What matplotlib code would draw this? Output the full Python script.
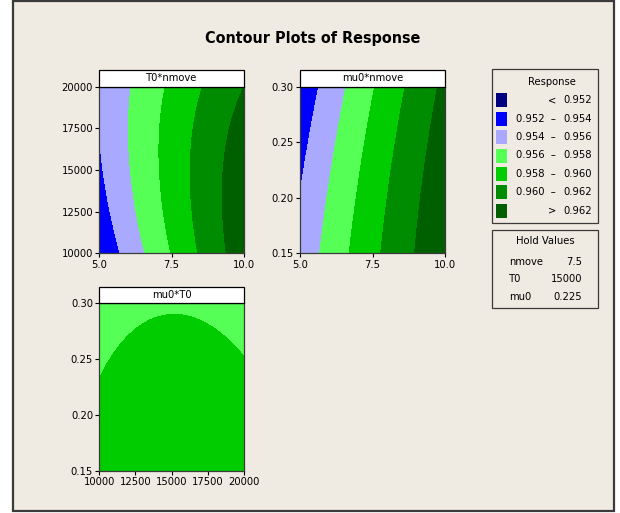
import numpy as np
import matplotlib

matplotlib.use("Agg")
import matplotlib.pyplot as plt
from matplotlib.patches import Rectangle

plt.rcParams["font.family"] = ["DejaVu Sans"]
plt.rcParams["font.stretch"] = "condensed"

W, H = 620, 513
BG = "#EFEBE2"
EDGE = "#3A3A3A"

# fitted response surface, coded units (nmove, T0, mu0 all scaled to -1..1)
b0 = 0.9588117
b_lin = [0.0047304, 0.0001421, -0.0008169]          # nmove, T0, mu0
b_sq = [-0.0003534, -0.0005961, -0.0001379]         # squares
b_int = [-0.0007265, 0.0002034, -0.0001155]         # nmove*T0, nmove*mu0, T0*mu0

nmove_range = [5.0, 10.0]
T0_range = [10000, 20000]
mu0_range = [0.15, 0.30]
hold = {"nmove": 7.5, "T0": 15000, "mu0": 0.225}

levels = [0.952, 0.954, 0.956, 0.958, 0.960, 0.962]
level_colors = ["#00007F", "#0000FF", "#A9A9FF", "#55FF55", "#00CC00", "#008C00", "#006000"]
nmove_ticks = [5.0, 7.5, 10.0]
T0_ticks = [10000, 12500, 15000, 17500, 20000]
mu0_ticks = [0.15, 0.20, 0.25, 0.30]


def code(v, rng):
    lo, hi = rng
    return (np.asarray(v, dtype=float) - (lo + hi) / 2) / ((hi - lo) / 2)


def response(nmove, T0, mu0):
    x = code(nmove, nmove_range)
    t = code(T0, T0_range)
    m = code(mu0, mu0_range)
    return (b0 + b_lin[0] * x + b_lin[1] * t + b_lin[2] * m
            + b_sq[0] * x ** 2 + b_sq[1] * t ** 2 + b_sq[2] * m ** 2
            + b_int[0] * x * t + b_int[1] * x * m + b_int[2] * t * m)


def fx(px):
    return px / W


def fy(py):
    return 1 - py / H


def add_panel(fig, left, top, right, bottom, title):
    ax = fig.add_axes([fx(left), fy(bottom), fx(right) - fx(left), fy(top) - fy(bottom)])
    hdr_top = top - 16.7
    fig.add_artist(Rectangle((fx(left), fy(top)), fx(right) - fx(left), fy(hdr_top) - fy(top),
                             transform=fig.transFigure, facecolor="white",
                             edgecolor="black", linewidth=0.9, zorder=5))
    fig.text(fx((left + right) / 2), fy(top - 8.4), title, ha="center", va="center",
             fontsize=8, zorder=6)
    for s in ax.spines.values():
        s.set_color(EDGE)
        s.set_linewidth(0.9)
    ax.tick_params(direction="out", length=3, width=0.8, labelsize=8, pad=1.5, colors="black")
    return ax


bounds = [-1.0] + levels + [2.0]

fig = plt.figure(figsize=(W / 100, H / 100), dpi=100, facecolor="white")
fig.add_artist(Rectangle((fx(13), fy(511)), fx(614) - fx(13), fy(1) - fy(511),
                         transform=fig.transFigure, facecolor=BG, edgecolor=EDGE,
                         linewidth=1.6, zorder=0))

fig.text(fx(313), fy(38), "Contour Plots of Response", ha="center", va="center",
         fontsize=11.5, fontweight="bold")

n = np.linspace(*nmove_range, 300)
T = np.linspace(*T0_range, 300)
mu = np.linspace(*mu0_range, 300)

# T0 vs nmove
ax1 = add_panel(fig, 99.3, 86.7, 244, 253.3, "T0*nmove")
N, TT = np.meshgrid(n, T)
ax1.contourf(N, TT, response(N, TT, hold["mu0"]), levels=bounds, colors=level_colors)
ax1.set_xticks(nmove_ticks, ["5.0", "7.5", "10.0"])
ax1.set_yticks(T0_ticks)

# mu0 vs nmove
ax2 = add_panel(fig, 300, 86.7, 445, 253.3, "mu0*nmove")
N, MU = np.meshgrid(n, mu)
ax2.contourf(N, MU, response(N, hold["T0"], MU), levels=bounds, colors=level_colors)
ax2.set_xticks(nmove_ticks, ["5.0", "7.5", "10.0"])
ax2.set_yticks(mu0_ticks, [f"{v:.2f}" for v in mu0_ticks])

# mu0 vs T0
ax3 = add_panel(fig, 99.3, 303.3, 244, 471, "mu0*T0")
TT, MU = np.meshgrid(T, mu)
ax3.contourf(TT, MU, response(hold["nmove"], TT, MU), levels=bounds, colors=level_colors)
ax3.set_xticks(T0_ticks)
ax3.set_yticks(mu0_ticks, [f"{v:.2f}" for v in mu0_ticks])

for ax in (ax1, ax2, ax3):
    ax.set_xlim(ax.get_xticks()[0], ax.get_xticks()[-1])
    ax.set_ylim(ax.get_yticks()[0], ax.get_yticks()[-1])

# legend box
fig.add_artist(Rectangle((fx(491.7), fy(223)), fx(598) - fx(491.7), fy(69.3) - fy(223),
                         transform=fig.transFigure, facecolor=BG, edgecolor=EDGE, linewidth=0.9))
fig.text(fx(552), fy(81.7), "Response", ha="center", va="center", fontsize=8)
labels = [("<", "0.952")] + [(f"{levels[i]:.3f}  \u2013", f"{levels[i + 1]:.3f}")
                             for i in range(len(levels) - 1)] + [(">", "0.962")]
for i, (color, (lo_txt, hi_txt)) in enumerate(zip(level_colors, labels)):
    yc = 100.3 + i * 18.4
    fig.add_artist(Rectangle((fx(495.7), fy(yc + 7)), fx(507.3) - fx(495.7), fy(yc - 7) - fy(yc + 7),
                             transform=fig.transFigure, facecolor=color, edgecolor="none"))
    fig.text(fx(556), fy(yc), lo_txt, ha="right", va="center", fontsize=8)
    fig.text(fx(592), fy(yc), hi_txt, ha="right", va="center", fontsize=8)

# hold values box
fig.add_artist(Rectangle((fx(491.7), fy(308)), fx(598) - fx(491.7), fy(230) - fy(308),
                         transform=fig.transFigure, facecolor=BG, edgecolor=EDGE, linewidth=0.9))
fig.text(fx(545), fy(241), "Hold Values", ha="center", va="center", fontsize=8)
hold_text = [("nmove", "7.5"), ("T0", "15000"), ("mu0", "0.225")]
for i, (name, val) in enumerate(hold_text):
    yc = 261.7 + i * 17.8
    fig.text(fx(509), fy(yc), name, ha="left", va="center", fontsize=8)
    fig.text(fx(582), fy(yc), val, ha="right", va="center", fontsize=8)

fig.savefig("out.png", dpi=100, facecolor="white")
